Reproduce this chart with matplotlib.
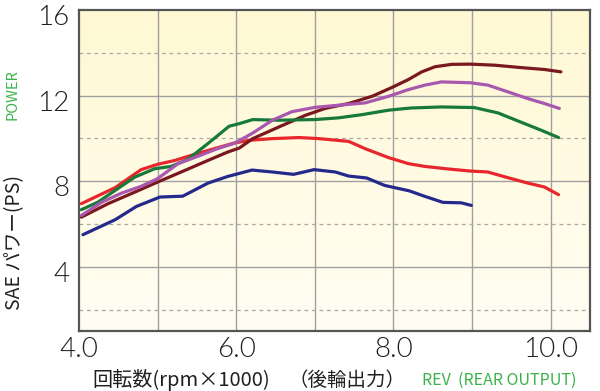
import numpy as np
import matplotlib
matplotlib.use("Agg")
import matplotlib.pyplot as plt
from matplotlib.colors import LinearSegmentedColormap
from matplotlib.transforms import ScaledTranslation

# ---- data (rpm x1000, PS) ----
blue_x = [4.05, 4.46, 4.73, 5.03, 5.32, 5.64, 5.89, 6.20, 6.46, 6.73, 6.99, 7.26, 7.43, 7.66, 7.89, 8.20, 8.40, 8.63, 8.86, 8.99]
blue_y = [5.50, 6.20, 6.82, 7.26, 7.30, 7.91, 8.22, 8.52, 8.43, 8.32, 8.54, 8.43, 8.24, 8.15, 7.80, 7.55, 7.29, 7.01, 6.99, 6.87]

red_x = [4.03, 4.46, 4.79, 5.00, 5.22, 5.43, 5.72, 5.97, 6.16, 6.46, 6.80, 7.05, 7.43, 7.64, 7.94, 8.19, 8.40, 8.70, 8.99, 9.20, 9.46, 9.71, 9.92, 10.10]
red_y = [6.95, 7.70, 8.54, 8.79, 8.97, 9.21, 9.52, 9.78, 9.91, 9.99, 10.04, 9.99, 9.86, 9.52, 9.10, 8.82, 8.69, 8.57, 8.47, 8.43, 8.16, 7.91, 7.73, 7.37]

green_x = [4.03, 4.24, 4.46, 4.71, 4.96, 5.17, 5.38, 5.64, 5.91, 6.04, 6.21, 6.54, 7.00, 7.30, 7.60, 7.94, 8.22, 8.61, 9.03, 9.33, 9.58, 9.88, 10.10]
green_y = [6.67, 7.02, 7.57, 8.19, 8.58, 8.69, 9.01, 9.76, 10.57, 10.69, 10.88, 10.85, 10.88, 10.96, 11.11, 11.32, 11.42, 11.47, 11.44, 11.19, 10.82, 10.38, 10.04]

purple_x = [4.03, 4.29, 4.54, 4.79, 5.00, 5.26, 5.51, 5.76, 5.97, 6.21, 6.46, 6.71, 7.00, 7.30, 7.64, 7.94, 8.19, 8.40, 8.61, 8.98, 9.20, 9.46, 9.71, 9.92, 10.11]
purple_y = [6.40, 7.02, 7.44, 7.76, 8.12, 8.82, 9.16, 9.52, 9.76, 10.25, 10.85, 11.25, 11.45, 11.55, 11.66, 11.97, 12.28, 12.49, 12.64, 12.60, 12.49, 12.17, 11.86, 11.63, 11.40]

maroon_x = [4.03, 4.37, 4.71, 5.00, 5.30, 5.64, 5.89, 6.04, 6.21, 6.54, 6.88, 7.13, 7.43, 7.73, 7.98, 8.19, 8.36, 8.53, 8.74, 8.98, 9.29, 9.62, 9.92, 10.13]
maroon_y = [6.32, 6.95, 7.49, 7.96, 8.43, 8.97, 9.36, 9.55, 9.99, 10.53, 11.08, 11.40, 11.63, 11.97, 12.38, 12.75, 13.11, 13.35, 13.46, 13.47, 13.42, 13.31, 13.22, 13.11]

x_ticks = [4.0, 6.0, 8.0, 10.0]
x_tick_labels = ["4.0", "6.0", "8.0", "10.0"]
y_ticks = [4, 8, 12, 16]
y_tick_labels = ["4", "8", "12", "16"]

cjk = ["Noto Sans CJK JP", "DejaVu Sans"]
num_font = ["Lato", "DejaVu Sans"]

fig = plt.figure(figsize=(6.0, 3.91), dpi=100)
ax = fig.add_axes([79/600, 1-331/391, (590-79)/600, (331-10)/391])
ax.set_xlim(4.0, 10.5)
ax.set_ylim(1.0, 16.0)

# background gradient
cmap = LinearSegmentedColormap.from_list("bg", ["#FFFEF4", "#FFF8D2"])
grad = np.linspace(0, 1, 256).reshape(-1, 1)
ax.imshow(grad, extent=[4.0, 10.5, 1.0, 16.0], origin="lower", aspect="auto", cmap=cmap, zorder=0)

# grid
for xv in [5, 6, 7, 8, 9, 10]:
    ax.axvline(xv, color="#a0a0a0", lw=1.0, zorder=1)
for yv in [4, 8, 12]:
    ax.axhline(yv, color="#a0a0a0", lw=1.0, zorder=1)
for yv in [2, 6, 10, 14]:
    ax.axhline(yv, color="#a8a8a8", lw=0.9, ls=(0, (3, 3)), zorder=1)

lw = 2.3
ax.plot(blue_x, blue_y, color="#232A8C", lw=lw, zorder=3, solid_capstyle="round")
ax.plot(red_x, red_y, color="#E8272C", lw=lw, zorder=3, solid_capstyle="round")
ax.plot(maroon_x, maroon_y, color="#7A1820", lw=lw, zorder=3, solid_capstyle="round")
ax.plot(purple_x, purple_y, color="#A858AE", lw=lw, zorder=4, solid_capstyle="round")
ax.plot(green_x, green_y, color="#187A3A", lw=lw, zorder=3, solid_capstyle="round")

for s in ax.spines.values():
    s.set_color("#555555")
    s.set_linewidth(1.6)
    s.set_zorder(5)

ax.set_xticks(x_ticks)
ax.set_xticklabels(x_tick_labels, family=num_font, fontsize=20, fontweight=300, color="#231f20")
ax.set_yticks(y_ticks)
ax.set_yticklabels(y_tick_labels, family=num_font, fontsize=20, fontweight=300, color="#231f20")
ax.tick_params(axis="both", length=0, pad=4)
ax.tick_params(axis="y", pad=7)
off = ScaledTranslation(0, -5/100, fig.dpi_scale_trans)
for lab in ax.get_yticklabels():
    lab.set_transform(lab.get_transform() + off)

fig.text(92/600, 1-380/391, "回転数(rpm×1000)", family=cjk, fontsize=14.5, color="#231f20", va="center", ha="left")
fig.text(289/600, 1-380/391, "（後輪出力）", family=cjk, fontsize=14, color="#231f20", va="center", ha="left")
fig.text(422/600, 1-380/391, "REV  (REAR OUTPUT)", family=cjk, fontsize=11.5, color="#3BB34A", va="center", ha="left")
fig.text(15/600, 1-243/391, "SAE パワー(PS)", family=cjk, fontsize=14, color="#231f20", rotation=90, va="center", ha="center")
fig.text(13/600, 1-95/391, "POWER", family=cjk, fontsize=10.5, color="#3BB34A", rotation=90, va="center", ha="center")

fig.savefig("out.png", dpi=100)
